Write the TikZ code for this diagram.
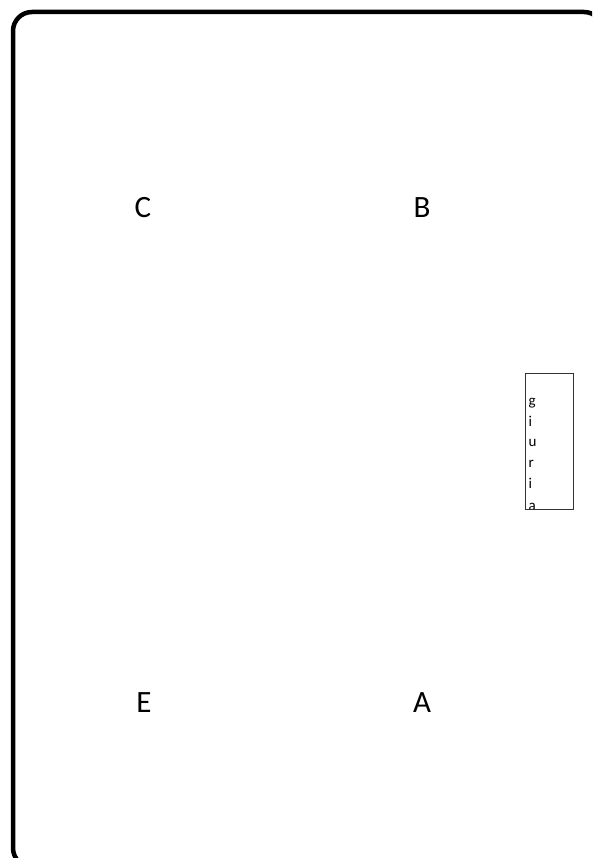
\documentclass[tikz,border=0pt]{standalone}
\usepackage{fontspec}
\setmainfont{Carlito}
\begin{document}
\begin{tikzpicture}[x=1pt,y=-1pt,
  bigletter/.style={font=\fontsize{31}{36}\selectfont, inner sep=0pt},
  smallletter/.style={font=\fontsize{15}{17}\selectfont, inner sep=0pt, anchor=base west},
  frame/.style={draw=black, line width=4.5pt, rounded corners=19pt},
  jurybox/.style={draw=black!80, line width=1pt}]
\useasboundingbox (0,0) rectangle (592,858);
\begin{scope}
\clip (0,0) rectangle (592,858);
\draw[frame] (13,12) rectangle (603,867);
\end{scope}
\node[bigletter] (C) at (143,208) {C};
\node[bigletter] (B) at (422,208) {B};
\node[bigletter] (E) at (144,703) {E};
\node[bigletter] (A) at (422,703) {A};
\begin{scope}
\clip (525.5,373) rectangle (573,509);
\node[smallletter] (g1) at (528.5,405.5) {g};
\node[smallletter] (g2) at (528.5,426.2) {i};
\node[smallletter] (g3) at (528.5,446.9) {u};
\node[smallletter] (g4) at (528.5,467.6) {r};
\node[smallletter] (g5) at (528.5,488.3) {i};
\node[smallletter] (g6) at (528.5,510) {a};
\end{scope}
\draw[jurybox] (525.5,373) rectangle (573,509.5);
\end{tikzpicture}
\end{document}
